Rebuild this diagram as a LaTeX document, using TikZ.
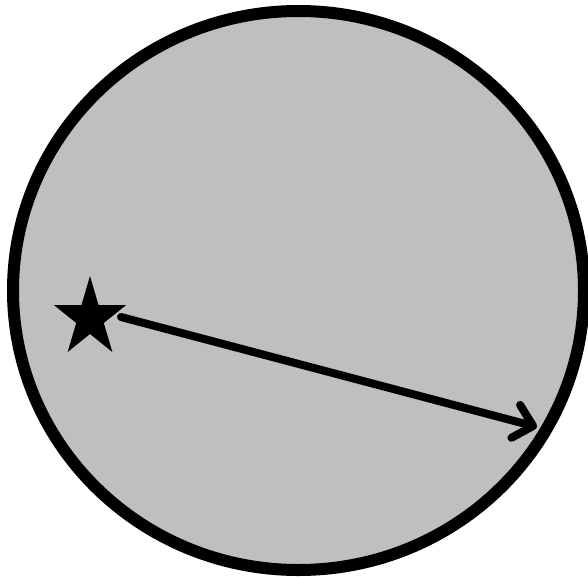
\documentclass[tikz,border=0pt]{standalone}
\usetikzlibrary{arrows.meta,shapes.geometric}
\definecolor{fillgray}{RGB}{191,191,191}
\tikzset{
  disc/.style={ellipse, draw=black, line width=12pt, fill=fillgray, minimum width=571pt, minimum height=559pt, inner sep=0pt},
  ray/.style={line width=8pt, line cap=round, -{Straight Barb[length=18pt,width=34pt,line cap=round,round]}}
}
\begin{document}
\begin{tikzpicture}[x=1pt,y=-1pt]
\useasboundingbox (0,0) rectangle (588,578);
\node[disc] (circ) at (298.5,290.5) {};
% star
\fill[black, shift={(90,318)}]
  \foreach \k in {0,...,4} {
    \ifnum\k=0 (270+72*\k:{38} and {42}) \else -- (270+72*\k:{38} and {42}) \fi
    -- (306+72*\k:{14.5} and {16})
  } -- cycle;
\coordinate (start) at (121,317);
\coordinate (tip) at (537,427);
\draw[ray] (start) -- (tip);
\end{tikzpicture}
\end{document}
